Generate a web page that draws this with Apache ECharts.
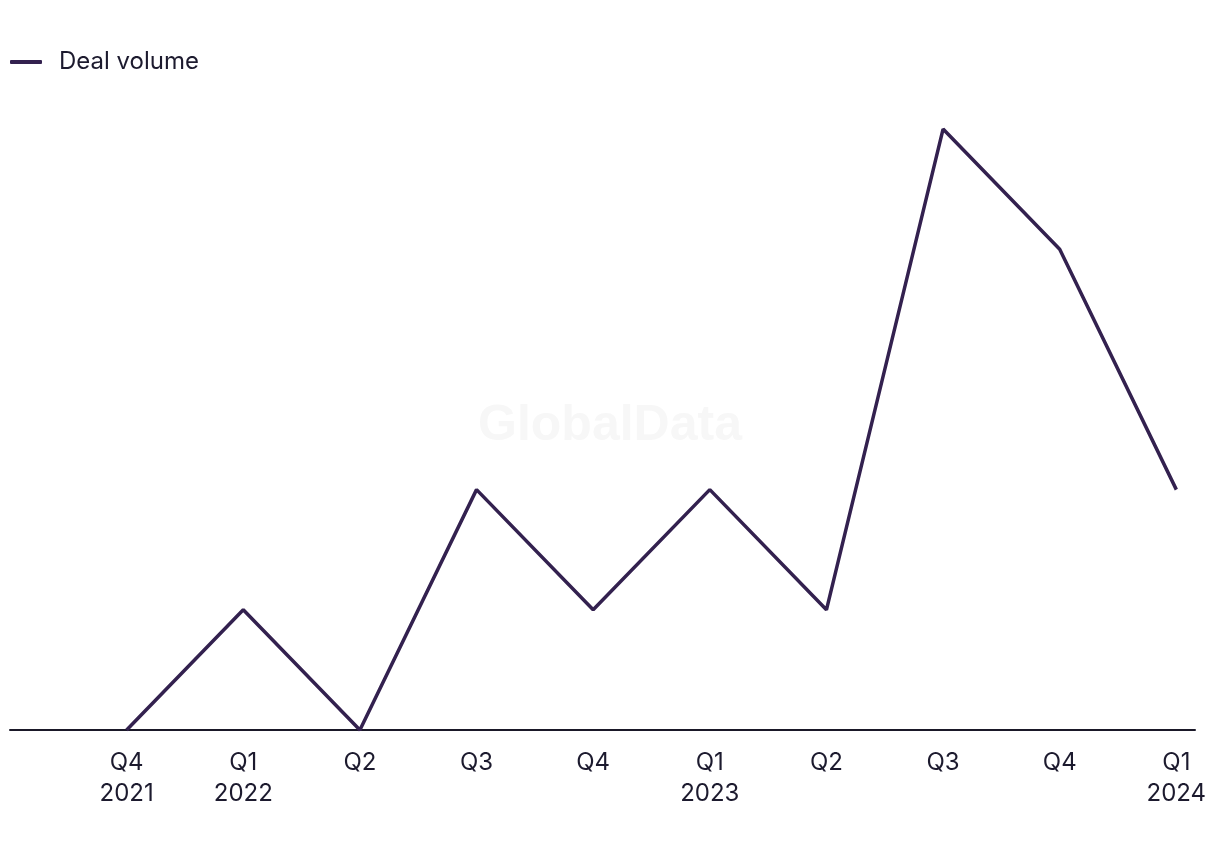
<!DOCTYPE html>
<html>
<head>
<meta charset="utf-8">
<script src="https://cdn.jsdelivr.net/npm/echarts@6/dist/echarts.min.js"></script>
<style>
html,body{margin:0;padding:0;background:#fff;}
#chart{width:1220px;height:850px;}
</style>
</head>
<body>
<div id="chart"></div>
<script>
var categories = ["Q4\n2021","Q1\n2022","Q2","Q3","Q4","Q1\n2023","Q2","Q3","Q4","Q1\n2024"];
var dealVolume = [0,1,0,2,1,2,1,5,4,2];

var chart = echarts.init(document.getElementById('chart'));
var seriesData = dealVolume.map(function(v,i){return [i,v];});
chart.setOption({
  animation:false,
  backgroundColor:'#ffffff',
  textStyle:{fontFamily:'Inter'},
  graphic:[{
    type:'text', left:'center', top:401, z:0, silent:true,
    style:{text:'GlobalData', fill:'#f7f7f7', font:'bold 50px "Liberation Sans", Arial, sans-serif'}
  }],
  legend:{
    left:10, top:50, padding:0, itemWidth:32, itemHeight:4, itemGap:20,
    icon:'roundRect',
    textStyle:{fontSize:24, color:'#1c1a2e', fontFamily:'Inter', padding:[0,0,0,12]},
    data:['Deal volume']
  },
  grid:{left:10, right:25, top:69, bottom:120, containLabel:false},
  xAxis:{
    type:'value', min:-1, max:9.16, interval:1,
    axisLine:{show:true, onZero:false, lineStyle:{color:'#1a1828', width:2}},
    axisTick:{show:false},
    splitLine:{show:false},
    axisLabel:{
      show:true, margin:17, fontSize:24, lineHeight:31, color:'#1c1a2e', fontFamily:'Inter',
      showMaxLabel:false,
      formatter:function(v){ return (v>=0 && v<categories.length && Math.round(v)===v) ? categories[v] : ''; }
    }
  },
  yAxis:{
    type:'value', min:0, max:5.5, show:false,
    splitLine:{show:false}
  },
  series:[{
    name:'Deal volume', type:'line', data:seriesData,
    symbol:'none', showSymbol:false,
    lineStyle:{color:'#33214f', width:3.5},
    itemStyle:{color:'#33214f'},
    z:3
  }]
});
</script>
</body>
</html>
